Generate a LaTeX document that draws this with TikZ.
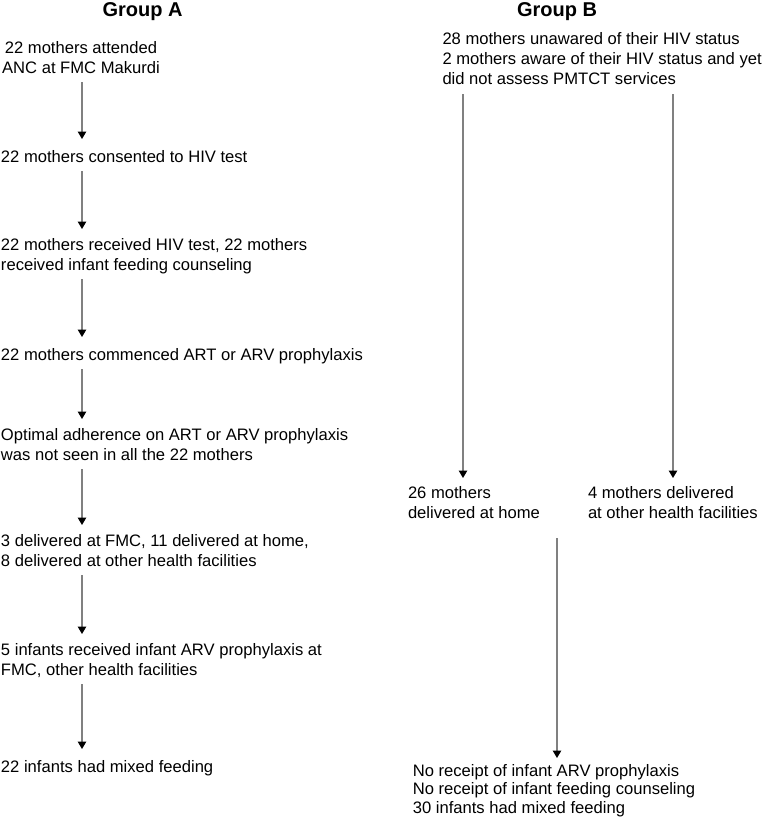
\documentclass[tikz,border=0pt]{standalone}
\usepackage{fontspec}
\setmainfont{Liberation Sans}
\usetikzlibrary{arrows.meta,calc}
\begin{document}
\begin{tikzpicture}[x=1pt,y=-1pt,
  txt/.style={inner sep=0pt, outer sep=0pt, align=left, anchor=north west,
    font=\fontsize{16.6}{20}\selectfont,
    execute at begin node=\strut, execute at end node=\strut},
  title/.style={inner sep=0pt, anchor=base, font=\fontsize{20}{23}\bfseries\selectfont},
  arr/.style={draw=black!50, line width=1.3pt,
    -{Triangle[width=8.5pt,length=7.5pt,color=black,fill=black]}}
]
\fill[white] (0,0) rectangle (764,822);
\useasboundingbox (0,0) rectangle (764,822);

\coordinate (ax) at (82,0);
\coordinate (bx1) at (463,0);
\coordinate (bx2) at (673,0);
\coordinate (bx3) at (557,0);

\node[title] (ga) at (142.5,16) {Group A};
\node[title] (gb) at (557,16) {Group B};

% Group A
\node[txt, anchor=north, align=center] (a1) at (81,41) {22 mothers attended\\ANC at FMC Makurdi};
\node[txt] (a2) at (1,148) {22 mothers consented to HIV test};
\node[txt] (a3) at (1,238) {22 mothers received HIV test, 22 mothers\\received infant feeding counseling};
\node[txt] (a4) at (1,346) {22 mothers commenced ART or ARV prophylaxis};
\node[txt] (a5) at (1,428) {Optimal adherence on ART or ARV prophylaxis\\was not seen in all the 22 mothers};
\node[txt] (a6) at (1,534) {3 delivered at FMC, 11 delivered at home,\\8 delivered at other health facilities};
\node[txt] (a7) at (1,643) {5 infants received infant ARV prophylaxis at\\FMC, other health facilities};
\node[txt] (a8) at (1,758) {22 infants had mixed feeding};

\foreach \u/\v in {a1/a2,a2/a3,a3/a4,a4/a5,a5/a6,a6/a7,a7/a8}{
  \draw[arr] ($(\u.south -| ax)+(0,3)$) -- ($(\v.north -| ax)+(0,-9)$);
}

% Group B
\node[txt] (b1) at (442.5,32.5) {28 mothers unawared of their HIV status\\2 mothers aware of their HIV status and yet\\did not assess PMTCT services};
\node[txt] (b2) at (408,486) {26 mothers\\delivered at home};
\node[txt] (b3) at (588,486) {4 mothers delivered\\at other health facilities};
\node[txt, font=\fontsize{16.6}{18.5}\selectfont] (b4) at (412.8,764) {No receipt of infant ARV prophylaxis\\No receipt of infant feeding counseling\\30 infants had mixed feeding};

\draw[arr] ($(b1.south -| bx1)+(0,3.5)$) -- ($(b2.north -| bx1)+(0,-8)$);
\draw[arr] ($(b1.south -| bx2)+(0,3.5)$) -- ($(b3.north -| bx2)+(0,-8)$);
\draw[arr] ($(b2.south -| bx3)+(0,14)$) -- ($(b4.north -| bx3)+(0,-6)$);
\end{tikzpicture}
\end{document}
